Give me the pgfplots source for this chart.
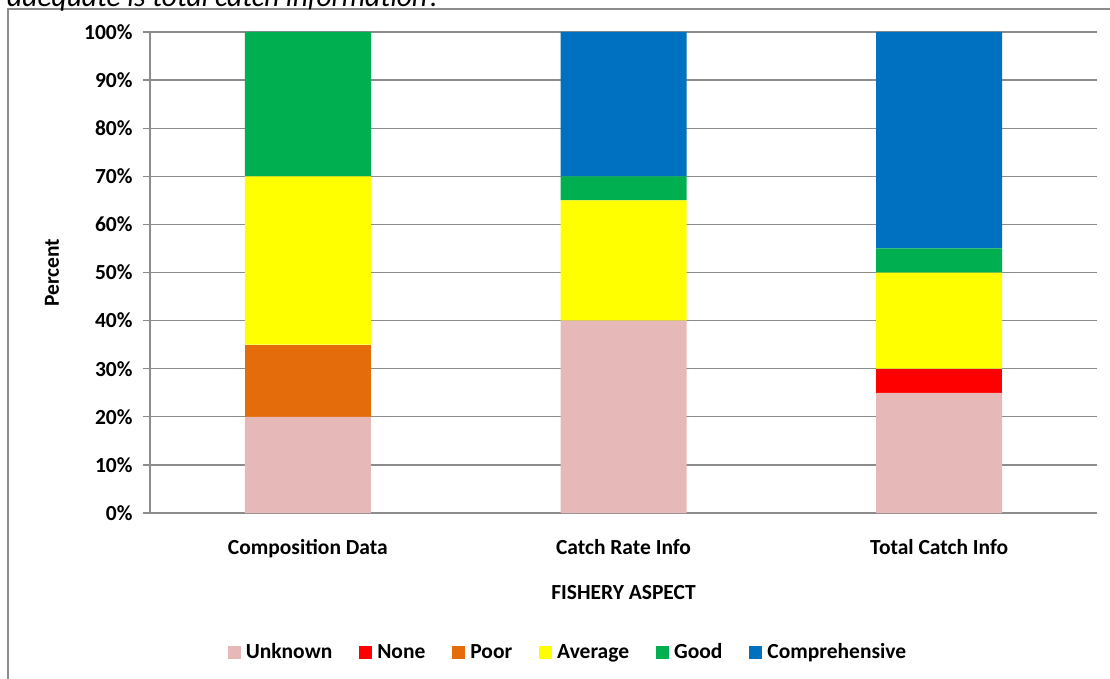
\documentclass[border=0pt]{standalone}
\usepackage{fontspec}
\setmainfont{Carlito}
\usepackage{pgfplots}
\pgfplotsset{compat=1.18}
\definecolor{cUnk}{HTML}{E6B8B7}
\definecolor{cNone}{HTML}{FF0000}
\definecolor{cPoor}{HTML}{E46C0A}
\definecolor{cAvg}{HTML}{FFFF00}
\definecolor{cGood}{HTML}{00B050}
\definecolor{cComp}{HTML}{0070C0}
\definecolor{gridgray}{HTML}{8C8C8C}
\begin{document}
\begin{tikzpicture}[x=1pt,y=1pt]
\path[use as bounding box, clip] (0,0) rectangle (1110,678);
\draw[gridgray, line width=1.5pt] (8,-5) -- (8,669) -- (1120,669);
\node[anchor=base east, font=\fontsize{29.5}{34}\selectfont\itshape, inner sep=0pt] at (441,671) {How adequate is total catch information?};
\begin{axis}[
  at={(150pt,165pt)}, anchor=south west,
  scale only axis, width=947pt, height=481pt,
  ybar stacked, bar width=126pt,
  xmin=-0.5, xmax=2.5, ymin=0, ymax=100,
  axis lines=left, axis line style={-, gridgray, line width=1.3pt},
  xtick={0,1,2},
  xticklabels={Composition Data, Catch Rate Info, Total Catch Info},
  x tick style={draw=none},
  minor xtick={-0.5,0.5,1.5,2.5},
  minor x tick style={gridgray, line width=1.3pt},
  minor tick length=7pt,
  tick align=outside,
  ytick={0,10,...,100},
  yticklabels={0\%,10\%,20\%,30\%,40\%,50\%,60\%,70\%,80\%,90\%,100\%},
  y tick style={gridgray, line width=1.3pt},
  major tick length=7pt,
  ymajorgrids, grid style={gridgray, line width=1.3pt},
  tick label style={font=\fontsize{21.5}{25}\selectfont\bfseries},
  yticklabel style={xshift=-7pt},
  xticklabel style={yshift=-16pt},
  xlabel={FISHERY ASPECT}, ylabel={Percent},
  every axis x label/.style={at={(axis description cs:0.5,0)}, anchor=base, yshift=-86pt, font=\fontsize{21.5}{25}\selectfont\bfseries},
  every axis y label/.style={at={(axis description cs:0,0.5)}, rotate=90, anchor=center, yshift=98pt, font=\fontsize{21.5}{25}\selectfont\bfseries},
  legend columns=6,
  legend style={at={(568pt-150pt,26pt-165pt)}, anchor=center, draw=none, fill=none,
    font=\fontsize{21.5}{25}\selectfont\bfseries,
    /tikz/every odd column/.append style={column sep=3pt},
    /tikz/every even column/.append style={column sep=25pt}},
  legend cell align=left,
  legend image code/.code={\fill[#1] (0pt,-6.5pt) rectangle (13pt,6.5pt);},
]
\addplot[fill=cUnk, draw=none] coordinates {(0,20) (1,40) (2,25)};
\addplot[fill=cNone, draw=none] coordinates {(0,0) (1,0) (2,5)};
\addplot[fill=cPoor, draw=none] coordinates {(0,15) (1,0) (2,0)};
\addplot[fill=cAvg, draw=none] coordinates {(0,35) (1,25) (2,20)};
\addplot[fill=cGood, draw=none] coordinates {(0,30) (1,5) (2,5)};
\addplot[fill=cComp, draw=none] coordinates {(0,0) (1,30) (2,45)};
\legend{Unknown, None, Poor, Average, Good, Comprehensive}
\end{axis}
\end{tikzpicture}
\end{document}
